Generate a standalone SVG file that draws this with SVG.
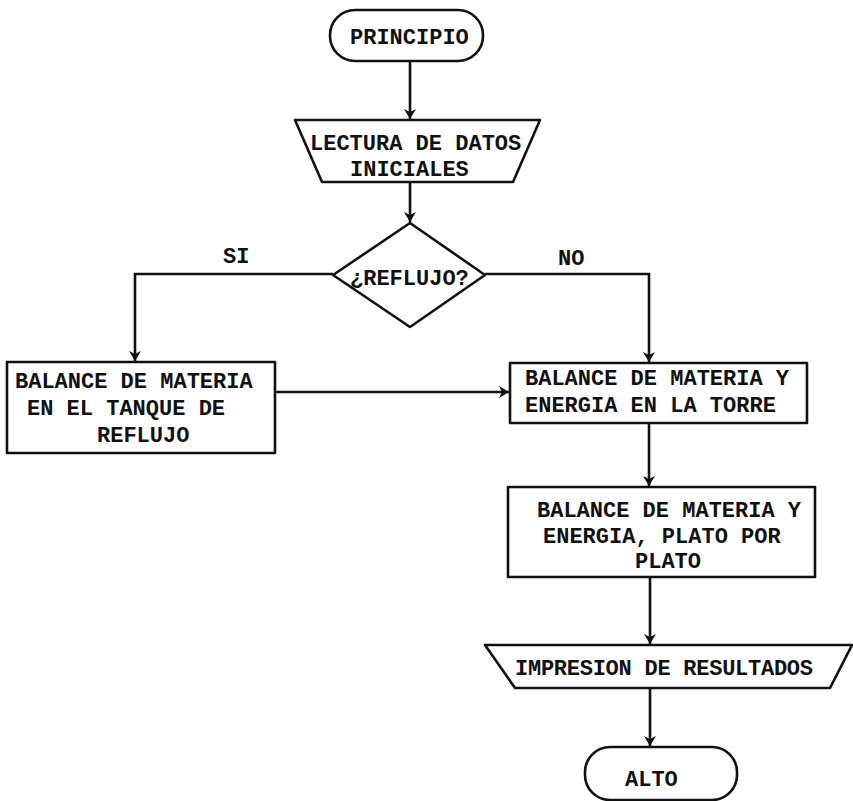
<svg xmlns="http://www.w3.org/2000/svg" width="853" height="801" viewBox="0 0 853 801">
<defs>
<style>
.s{fill:#fff;stroke:#111;stroke-width:2.6;stroke-linejoin:round}
.c{fill:none;stroke:#111;stroke-width:2.6}
text{font-family:"Liberation Mono","Courier New",monospace;font-size:22px;font-weight:bold;fill:#111}
</style>
<marker id="ah" markerWidth="12" markerHeight="12" refX="10" refY="6" orient="auto" markerUnits="userSpaceOnUse">
<path d="M0,0 L10,6 L0,12 L3,6 Z" fill="#111"/>
</marker>
</defs>
<rect width="853" height="801" fill="#fff"/>
<g id="connectors">
<line class="c" x1="410" y1="61" x2="410" y2="119" marker-end="url(#ah)"/>
<line class="c" x1="410" y1="182" x2="410" y2="222" marker-end="url(#ah)"/>
<path class="c" d="M333,274 H135 V361" marker-end="url(#ah)"/>
<path class="c" d="M485,274 H649 V362" marker-end="url(#ah)"/>
<line class="c" x1="275" y1="392" x2="509" y2="392" marker-end="url(#ah)"/>
<line class="c" x1="649" y1="423" x2="649" y2="486" marker-end="url(#ah)"/>
<line class="c" x1="650" y1="577" x2="650" y2="644" marker-end="url(#ah)"/>
<line class="c" x1="650" y1="688" x2="650" y2="746" marker-end="url(#ah)"/>
<text x="223" y="263">SI</text>
<text x="558" y="265">NO</text>
</g>
<g id="principio">
<rect class="s" x="330" y="10" width="153" height="51" rx="25"/>
<text x="350" y="44">PRINCIPIO</text>
</g>
<g id="lectura">
<polygon class="s" points="295,120 540,120 513,182 322,182"/>
<text x="310" y="150">LECTURA DE DATOS</text>
<text x="350" y="176">INICIALES</text>
</g>
<g id="reflujo">
<polygon class="s" points="410,223 485,275 410,327 333,275"/>
<text x="350" y="285">¿REFLUJO?</text>
</g>
<g id="tanque">
<rect class="s" x="7" y="362" width="268" height="91"/>
<text x="15" y="388">BALANCE DE MATERIA</text>
<text x="27" y="415">EN EL TANQUE DE</text>
<text x="97" y="442">REFLUJO</text>
</g>
<g id="torre">
<rect class="s" x="510" y="363" width="297" height="60"/>
<text x="525" y="385">BALANCE DE MATERIA Y</text>
<text x="525" y="412">ENERGIA EN LA TORRE</text>
</g>
<g id="plato">
<rect class="s" x="508" y="487" width="307" height="90"/>
<text x="537" y="517">BALANCE DE MATERIA Y</text>
<text x="543" y="543">ENERGIA, PLATO POR</text>
<text x="635" y="568">PLATO</text>
</g>
<g id="impresion">
<polygon class="s" points="485,645 852,645 830,688 515,688"/>
<text x="515" y="675" textLength="298" lengthAdjust="spacing">IMPRESION DE RESULTADOS</text>
</g>
<g id="alto">
<rect class="s" x="585" y="747" width="152" height="53" rx="25"/>
<text x="625" y="786">ALTO</text>
</g>
</svg>
